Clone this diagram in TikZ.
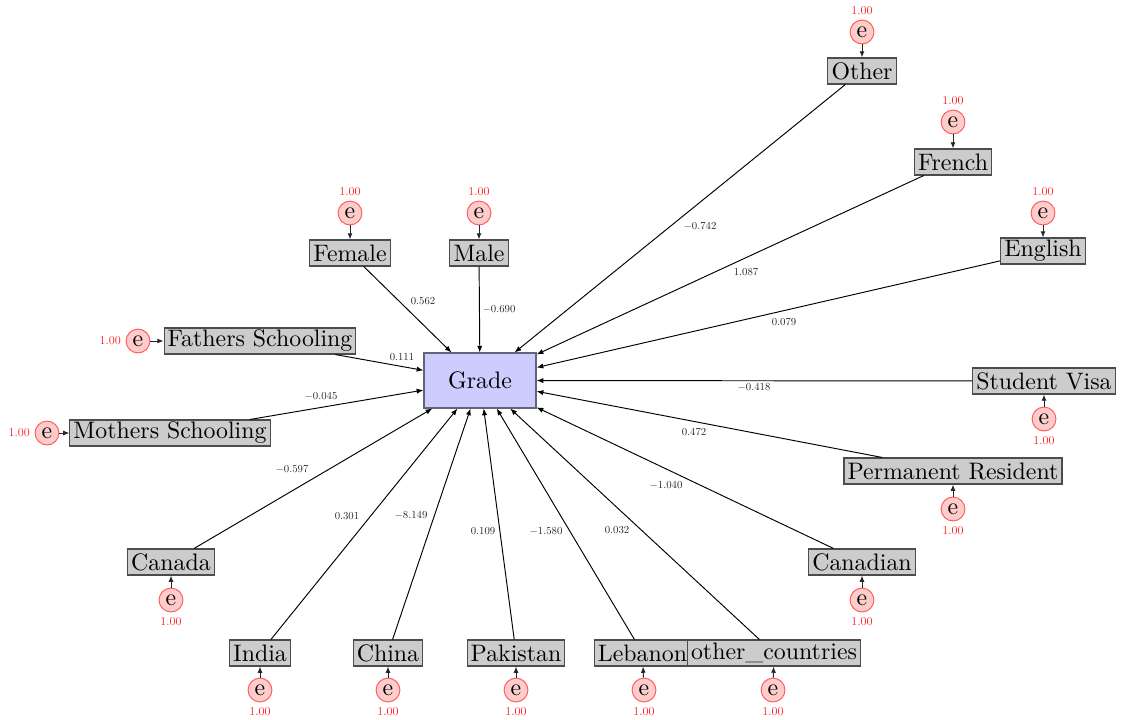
\documentclass[tikz,border=0pt]{standalone}
\usepackage{graphicx}
\usetikzlibrary{arrows.meta}
% small numbers keep the 10pt design of the roman font
\newcommand{\coefnum}[1]{\scalebox{0.45}{#1}}
\newcommand{\varnum}[1]{\scalebox{0.5}{#1}}
\begin{document}
\begin{tikzpicture}[x=0.4193pt,y=-0.4193pt,
  var/.style={draw=black!70, line width=0.45pt, fill=black!20, inner xsep=1.5pt, inner ysep=0pt, minimum height=10.9pt},
  outc/.style={draw={rgb,255:red,100;green,100;blue,120}, line width=0.5pt, fill=blue!20, minimum width=47pt, minimum height=23pt},
  err/.style={circle, draw=red!65, fill=red!20, minimum size=10pt, inner sep=0pt},
  errlab/.style={text=red!85, inner sep=1.8pt},
  coef/.style={text=black!85, inner sep=1pt},
  reg/.style={-{Latex[length=2.8pt,width=2.2pt]}, black},
  epath/.style={-{Latex[length=2.6pt,width=2.1pt]}, black!85}]
\useasboundingbox (0,0) rectangle (1126,719);

% outcome
\node[outc] (grade) at (480,380.5) {Grade};

% predictors
\node[var] (other)   at (862,71)  {Other};
\node[var] (french)  at (953,162) {French};
\node[var] (english) at (1043,251) {English};
\node[var] (visa)    at (1044,381) {Student Visa};
\node[var] (perm)    at (953,471) {Permanent Resident};
\node[var] (cdn)     at (862,562) {Canadian};
\node[var] (leb)     at (642.5,653) {Lebanon};
\node[var] (othc)    at (774,653) {other\_countries};
\node[var] (pak)     at (516,653) {Pakistan};
\node[var] (china)   at (388,653) {China};
\node[var] (india)   at (260,653) {India};
\node[var] (canada)  at (171,562) {Canada};
\node[var] (mother)  at (170,433) {Mothers Schooling};
\node[var] (father)  at (260,341) {Fathers Schooling};
\node[var] (female)  at (350,253) {Female};
\node[var] (male)    at (479,253) {Male};

% error terms
\node[err, label={[errlab]above:\varnum{1.00}}] (eother)   at (862,32)  {e};
\node[err, label={[errlab]above:\varnum{1.00}}] (efrench)  at (953,122) {e};
\node[err, label={[errlab]above:\varnum{1.00}}] (eenglish) at (1043,213) {e};
\node[err, label={[errlab]above:\varnum{1.00}}] (efemale)  at (350,213) {e};
\node[err, label={[errlab]above:\varnum{1.00}}] (emale)    at (479,213) {e};
\node[err, label={[errlab]below:\varnum{1.00}}] (evisa)    at (1044,419) {e};
\node[err, label={[errlab]below:\varnum{1.00}}] (eperm)    at (953,509) {e};
\node[err, label={[errlab]below:\varnum{1.00}}] (ecdn)     at (862,600) {e};
\node[err, label={[errlab]below:\varnum{1.00}}] (eothc)    at (773,690) {e};
\node[err, label={[errlab]below:\varnum{1.00}}] (eleb)     at (644,690) {e};
\node[err, label={[errlab]below:\varnum{1.00}}] (epak)     at (516,690) {e};
\node[err, label={[errlab]below:\varnum{1.00}}] (echina)   at (388,690) {e};
\node[err, label={[errlab]below:\varnum{1.00}}] (eindia)   at (260,690) {e};
\node[err, label={[errlab]below:\varnum{1.00}}] (ecanada)  at (171,600) {e};
\node[err, label={[errlab]left:\varnum{1.00}}]  (emother)  at (47,433)  {e};
\node[err, label={[errlab]left:\varnum{1.00}}]  (efather)  at (138,341) {e};

% error paths
\foreach \e/\v in {eother/other, efrench/french, eenglish/english, efemale/female,
  emale/male, evisa/visa, eperm/perm, ecdn/cdn, eothc/othc, eleb/leb, epak/pak,
  echina/china, eindia/india, ecanada/canada, emother/mother, efather/father}
  \draw[epath] (\e) -- (\v);

% regression paths with estimates
\draw[reg] (other)   -- (grade) node[coef, at={(700,226)}] (cother) {\coefnum{$-0.742$}};
\draw[reg] (french)  -- (grade) node[coef, at={(746,272)}] (cfrench) {\coefnum{1.087}};
\draw[reg] (english) -- (grade) node[coef, at={(784,322)}] (cenglish) {\coefnum{0.079}};
\draw[reg] (visa)    -- (grade) node[coef, at={(754,387)}] (cvisa) {\coefnum{$-0.418$}};
\draw[reg] (perm)    -- (grade) node[coef, at={(694,432)}] (cperm) {\coefnum{0.472}};
\draw[reg] (cdn)     -- (grade) node[coef, at={(666,485)}] (ccdn) {\coefnum{$-1.040$}};
\draw[reg] (othc)    -- (grade) node[coef, at={(617,530)}] (cothc) {\coefnum{0.032}};
\draw[reg] (leb)     -- (grade) node[coef, at={(546,531)}] (cleb) {\coefnum{$-1.580$}};
\draw[reg] (pak)     -- (grade) node[coef, at={(483,531)}] (cpak) {\coefnum{0.109}};
\draw[reg] (china)   -- (grade) node[coef, at={(411,515)}] (cchina) {\coefnum{$-8.149$}};
\draw[reg] (india)   -- (grade) node[coef, at={(347,516)}] (cindia) {\coefnum{0.301}};
\draw[reg] (canada)  -- (grade) node[coef, at={(292,469)}] (ccanada) {\coefnum{$-0.597$}};
\draw[reg] (mother)  -- (grade) node[coef, at={(321,396)}] (cmother) {\coefnum{$-0.045$}};
\draw[reg] (father)  -- (grade) node[coef, at={(402,357)}] (cfather) {\coefnum{0.111}};
\draw[reg] (female)  -- (grade) node[coef, at={(423,301)}] (cfemale) {\coefnum{0.562}};
\draw[reg] (male)    -- (grade) node[coef, at={(499,309)}] (cmale) {\coefnum{$-0.690$}};
\end{tikzpicture}
\end{document}
